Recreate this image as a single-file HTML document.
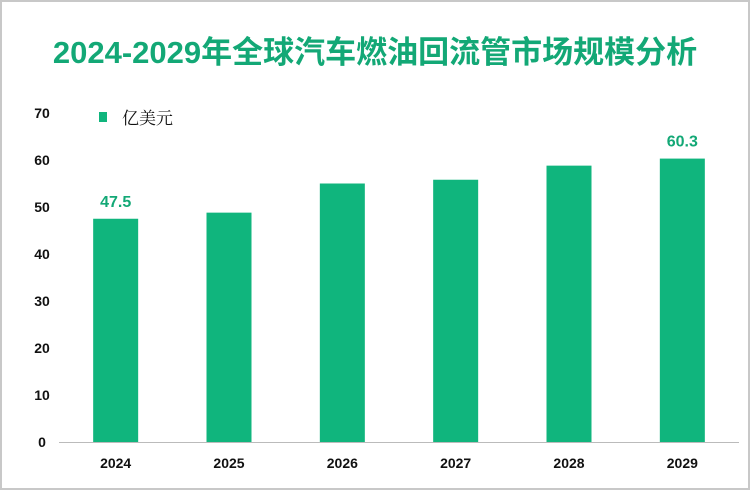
<!DOCTYPE html>
<html><head><meta charset="utf-8"><style>
body{margin:0;background:#fff}
#wrap{position:relative;width:750px;height:490px;overflow:hidden;box-sizing:border-box;border:2px solid #c8c8c8;background:#fff}
#title{position:absolute;left:-2px;top:25px;width:750px;text-align:center;font:bold 31px "Liberation Sans","Noto Sans CJK SC",sans-serif;color:#13a876;white-space:nowrap}
svg{position:absolute;left:-2px;top:-2px}
</style></head><body>
<div id="wrap">
<div id="title">2024-2029年全球汽车燃油回流管市场规模分析</div>
<svg id="c" width="750" height="490"></svg>
</div>
<script>
const categories=["2024","2025","2026","2027","2028","2029"];
const values=[47.5,48.8,55.0,55.8,58.8,60.3];
const labelShown=[true,false,false,false,false,true];
const yTicks=[0,10,20,30,40,50,60,70];
const NS="http://www.w3.org/2000/svg";
const svg=document.getElementById('c');
const x0=59,x1=739,y0=442,yTop=113,yMax=70;
const step=(x1-x0)/categories.length,bw=45;
function ys(v){return y0-(v/yMax)*(y0-yTop);}
function xs(i){return x0+step*(i+0.5);}
function mk(t,a,txt){const e=document.createElementNS(NS,t);for(const k in a)e.setAttribute(k,a[k]);if(txt!==undefined)e.textContent=txt;svg.appendChild(e);return e;}
yTicks.forEach(t=>{
 const e=mk('text',{x:42,y:ys(t)+5,'text-anchor':'middle','font-family':'Liberation Sans,sans-serif','font-size':14,'font-weight':'bold',fill:'#111'},t);
 
 
});
const ax=mk('line',{x1:x0,x2:x1,y1:y0+0.5,y2:y0+0.5,stroke:'#bbb','stroke-width':1});


categories.forEach((c,i)=>{
 const b=mk('rect',{x:xs(i)-bw/2,y:ys(values[i]),width:bw,height:y0-ys(values[i]),fill:'#10b57d'});
 
 
 const l=mk('text',{x:xs(i),y:468,'text-anchor':'middle','font-family':'Liberation Sans,sans-serif','font-size':14,'font-weight':'bold',fill:'#111'},c);
 
 
 if(labelShown[i]){
  const v=mk('text',{x:xs(i),y:ys(values[i])-12,'text-anchor':'middle','font-family':'Liberation Sans,sans-serif','font-size':16,'font-weight':'bold',fill:'#13a876'},values[i].toFixed(1));
  
  
 }
});
const lm=mk('rect',{x:99,y:112,width:8,height:10,fill:'#10b57d'});


const lt=mk('text',{x:122,y:124,'font-family':'Noto Serif CJK SC,serif','font-size':17,fill:'#111'},'亿美元');


</script>
</body></html>
